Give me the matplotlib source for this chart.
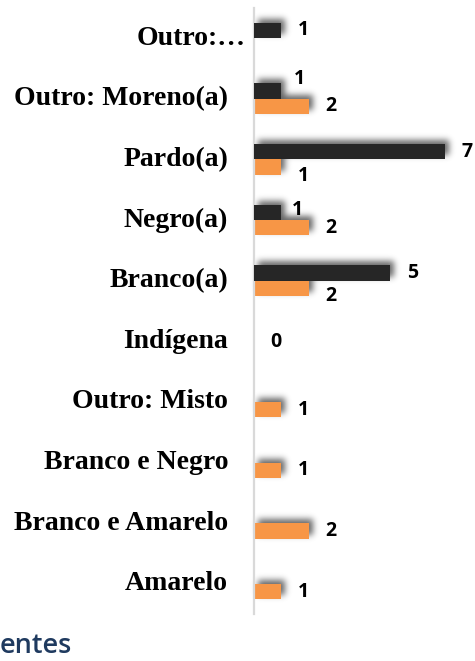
import numpy as np
import matplotlib
matplotlib.use("Agg")
import matplotlib.pyplot as plt
from matplotlib.transforms import ScaledTranslation

# ---- data (bottom to top) ----
categories = ["Amarelo", "Branco e Amarelo", "Branco e Negro", "Outro: Misto",
              "Indígena", "Branco(a)", "Negro(a)", "Pardo(a)",
              "Outro: Moreno(a)", "Outro:…"]
series_dark = [None, None, None, None, 0, 5, 1, 7, 1, 1]
series_orange = [1, 2, 1, 1, None, 2, 2, 1, 2, None]

# ---- style ----
DARK = "#262626"
ORANGE = "#F79646"
BAR_H = 0.255
W, H = 475, 661
# label offsets in pixels (dx, dy up) relative to bar end
dark_off = {4: (22, -8), 5: (22, 0), 6: (16, 2.5), 7: (22, 0), 8: (18, 12), 9: (22, 0)}
orange_off = {7: (22, -9), 5: (22, -7.5)}
cat_pad_px = {9: 8}

fig = plt.figure(figsize=(W / 100, H / 100), dpi=100)
ax = fig.add_axes([254 / W, 1 - 614.3 / H, 1 - 254 / W, (614.3 - 7.7) / H])
ax.set_facecolor("none")
ax.set_xlim(0, 8.1)
ax.set_ylim(-0.5, len(categories) - 0.5)

y = np.arange(len(categories))
px = 0.72  # points per pixel at 100 dpi
all_bars = []

def draw_series(vals, yoff, color, offs, z):
    idx = [i for i, v in enumerate(vals) if v is not None]
    w = [vals[i] for i in idx]
    yy = [y[i] + yoff for i in idx]
    bars = ax.barh(yy, w, height=BAR_H, color=color, zorder=z, linewidth=0)
    all_bars.extend(bars)
    for i, v, yc in zip(idx, w, yy):
        dx, dy = offs.get(i, (22, 0))
        ax.annotate(str(v), xy=(v, yc), xytext=(dx * px, dy * px), textcoords="offset points",
                    ha="center", va="center", fontsize=14, fontweight="bold",
                    family="Open Sans", color="black", zorder=5)

draw_series(series_orange, -BAR_H / 2, ORANGE, orange_off, 2)
draw_series(series_dark, BAR_H / 2, DARK, dark_off, 3)

# ---- soft drop shadow (blurred, offset up-right) ----
mask = np.zeros((H, W))
sx, sy = 4, 4
for b in all_bars:
    e = b.get_window_extent()
    if e.width < 1:
        continue
    x0, x1 = int(round(e.x0)) + sx, int(round(e.x1)) + sx
    r0, r1 = H - int(round(e.y1)) - sy, H - int(round(e.y0)) - sy
    mask[max(r0, 0):max(r1, 0), max(x0, 0):min(x1, W)] = 1.0
sigma = 3.2
k = np.arange(-10, 11)
g = np.exp(-k ** 2 / (2 * sigma ** 2))
g /= g.sum()
mask = np.apply_along_axis(lambda m: np.convolve(m, g, mode="same"), 0, mask)
mask = np.apply_along_axis(lambda m: np.convolve(m, g, mode="same"), 1, mask)
rgba = np.zeros((H, W, 4))
rgba[..., 3] = np.clip(mask * 0.6, 0, 1)
fig.figimage(rgba, xo=0, yo=0, origin="upper", zorder=-1)

for s in ["top", "right", "bottom"]:
    ax.spines[s].set_visible(False)
ax.spines["left"].set_color("#d9d9d9")
ax.spines["left"].set_linewidth(1.6)
ax.set_xticks([])
ax.set_yticks([])

trans_y = ax.get_yaxis_transform()
for i, c in enumerate(categories):
    pad = cat_pad_px.get(i, 26)
    t = trans_y + ScaledTranslation(-pad / 100, 0, fig.dpi_scale_trans)
    ax.text(0, y[i], c, transform=t, ha="right", va="center",
            fontsize=20, fontweight="bold", family="Liberation Serif", color="black")

fig.text(0 / W, 1 - 653 / H, "entes", ha="left", va="baseline",
         fontsize=19.5, family="Open Sans", fontweight="semibold", color="#1f3a5f")

fig.savefig("out.png", dpi=100)
